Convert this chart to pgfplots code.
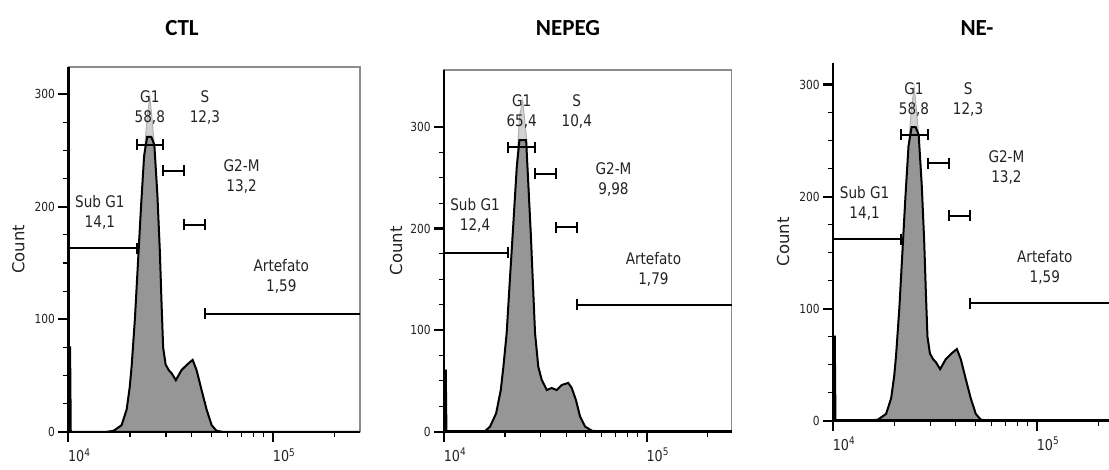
\documentclass[border=0pt]{standalone}
\usepackage{pgfplots}
\usepackage{pgfplotstable}
\pgfplotsset{compat=1.18}
\usepackage{fontspec}
\setmainfont{DejaVu Sans}[FakeStretch=0.85]
\newfontfamily\countfont{DejaVu Sans}
\newfontfamily\titlefont{Carlito}
\definecolor{histfill}{RGB}{150,150,150}
\definecolor{tipfill}{RGB}{210,210,210}
\definecolor{framec}{RGB}{140,140,140}
\definecolor{txt}{RGB}{35,35,35}

% CTL histogram (x = DNA content, y = count)
\pgfplotstableread{
x y
10000 0
10120 0
10200 76
10280 0
15136 0
16596 1
18197 6
19275 20
19953 40
20370 58
21135 100
21878 150
22646 200
23442 245
24266 280
25003 297
25410 285
26303 255
27227 210
27990 160
28510 115
29040 75
29854 60
30903 55
31989 52
33497 46
35727 55
38107 60
40458 64
42267 55
44771 37
47315 20
50119 6
52966 1
57544 0
265500 0
}\ctl

% NEPEG histogram
\pgfplotstableread{
x y
10000 0
10120 0
10200 61
10280 0
14454 0
15922 0.5
16866 5
18072 18
19055 41
19634 64
20370 97
21135 150
21827 195
22856 261
23550 310
24434 326
25410 293
26792 195
28119 97
29174 64
30339 51
32137 41
33963 43
35975 41
38107 46
41020 48
42658 43
44771 31
46881 15
49659 5
53580 1
58884 0
262400 0
}\nepeg

% NE- histogram
\pgfplotstableread{
x y
10000 0
10120 0
10200 76
10280 0
15136 0
16596 1
18197 6
19275 20
19953 40
20370 58
21135 100
21878 150
22646 200
23442 245
24266 280
25003 297
25410 285
26303 255
27227 210
27990 160
28510 115
29040 75
29854 60
30903 55
31989 52
33497 46
35727 55
38107 60
40458 64
42267 55
44771 37
47315 20
50119 6
52966 1
57544 0
263000 0
}\nem

\pgfplotsset{
  every axis/.append style={
    scale only axis,
    axis x line*=bottom, axis y line*=left,
    xmin=1e4, ymin=0,
    xtick={1e4,1e5}, xticklabels={10\textsuperscript{4},10\textsuperscript{5}},
    minor xtick={2e4,3e4,4e4,5e4,6e4,7e4,8e4,9e4,2e5},
    ytick={0,100,200,300}, minor y tick num=3,
    tick align=outside,
    major tick length=10pt, minor tick length=5pt,
    yticklabel style={font=\fontsize{12.5}{12.5}\selectfont, text=txt},
    xticklabel style={font=\fontsize{15}{15}\selectfont, text=txt, xshift=11pt, yshift=-3pt},
    clip=false, axis on top,
  },
  /pgf/number format/assume math mode=true,
}
\tikzset{
  myhist/.style={fill=histfill, draw=black, line width=2pt},
  mytip/.style={fill=tipfill, draw=tipfill!85!black, line width=1pt},
  mygate/.style={black, line width=2pt, mark=|, mark size=5.5pt, mark options={line width=2pt, solid}},
  mylbl/.style={align=center, font=\fontsize{16}{20}\selectfont, text=txt},
  mycount/.style={rotate=90, font=\countfont\fontsize{16.5}{16.5}\selectfont, text=txt},
}

\begin{document}
\begin{tikzpicture}[x=1pt,y=1pt]
\useasboundingbox (0,0) rectangle (1109,470);

% ---------------- CTL ----------------
\begin{semilogxaxis}[at={(68.3pt,38pt)}, anchor=south west, width=291.7pt, height=365pt,
  xmax=265500, ymax=324,
  axis line style={line width=2.4pt, black},
  every major tick/.append style={line width=2.2pt, black},
  every minor tick/.append style={line width=1.1pt, black}]
  \draw[framec, line width=1.4pt] (rel axis cs:0,0.97) -- (rel axis cs:0,1) -- (rel axis cs:1,1) -- (rel axis cs:1,0);
  \addplot[mytip] table {\ctl} \closedcycle;
  \addplot[myhist, y filter/.code={\pgfmathparse{min(\pgfmathresult,262)}}] table {\ctl} \closedcycle;
  \addplot[mygate, mark indices={2}] coordinates {(10000,163) (21528,163)};
  \addplot[mygate] coordinates {(21528,255) (29040,255)};
  \addplot[mygate] coordinates {(29040,232) (36644,232)};
  \addplot[mygate] coordinates {(36644,184) (46452,184)};
  \addplot[mygate, mark indices={1}] coordinates {(46452,105) (265500,105)};
  \node[mylbl] at (axis cs:14256,195) {Sub G1\\14,1};
  \node[mylbl] at (axis cs:25003,288) {G1\\58,8};
  \node[mylbl] at (axis cs:46452,288) {S\\12,3};
  \node[mylbl] at (axis cs:70146,227) {G2-M\\13,2};
  \node[mylbl] at (axis cs:109648,138) {Artefato\\1,59};
  \node[mycount] at ([xshift=-50pt]rel axis cs:0,0.5) {Count};
\end{semilogxaxis}

% ---------------- NEPEG ----------------
\begin{semilogxaxis}[at={(444pt,38.3pt)}, anchor=south west, width=287.7pt, height=361.7pt,
  xmax=262400, ymax=356,
  axis line style={line width=2.4pt, black},
  every major tick/.append style={line width=2.2pt, black},
  every minor tick/.append style={line width=1.1pt, black}]
  \draw[framec, line width=1.4pt] (rel axis cs:0,0.8) -- (rel axis cs:0,1) -- (rel axis cs:1,1) -- (rel axis cs:1,0);
  \addplot[mytip] table {\nepeg} \closedcycle;
  \addplot[myhist, y filter/.code={\pgfmathparse{min(\pgfmathresult,287)}}] table {\nepeg} \closedcycle;
  \addplot[mygate, mark indices={2}] coordinates {(10000,176) (20749,176)};
  \addplot[mygate] coordinates {(20749,280) (28119,280)};
  \addplot[mygate] coordinates {(28119,254) (35727,254)};
  \addplot[mygate] coordinates {(35727,201) (45499,201)};
  \addplot[mygate, mark indices={1}] coordinates {(45499,125) (262400,125)};
  \node[mylbl] at (axis cs:14223,213) {Sub G1\\12,4};
  \node[mylbl] at (axis cs:24155,315) {G1\\65,4};
  \node[mylbl] at (axis cs:45186,315) {S\\10,4};
  \node[mylbl] at (axis cs:68549,248) {G2-M\\9,98};
  \node[mylbl] at (axis cs:107895,160) {Artefato\\1,79};
  \node[mycount] at ([xshift=-48pt]rel axis cs:0,0.5) {Count};
\end{semilogxaxis}

% ---------------- NE- ----------------
\begin{semilogxaxis}[at={(833pt,49.3pt)}, anchor=south west, width=289.7pt, height=357.4pt,
  xmax=263000, ymax=319,
  axis line style={line width=2.4pt, black},
  every major tick/.append style={line width=2.2pt, black},
  every minor tick/.append style={line width=1.1pt, black}]
  \addplot[mytip] table {\nem} \closedcycle;
  \addplot[myhist, y filter/.code={\pgfmathparse{min(\pgfmathresult,262)}}] table {\nem} \closedcycle;
  \addplot[mygate, mark indices={2}] coordinates {(10000,162) (21628,162)};
  \addplot[mygate] coordinates {(21628,255) (29242,255)};
  \addplot[mygate] coordinates {(29242,230) (36898,230)};
  \addplot[mygate] coordinates {(36898,183) (46774,183)};
  \addplot[mygate, mark indices={1}] coordinates {(46774,105) (263000,105)};
  \node[mylbl] at (axis cs:14289,194) {Sub G1\\14,1};
  \node[mylbl] at (axis cs:24946,287) {G1\\58,8};
  \node[mylbl] at (axis cs:45920,287) {S\\12,3};
  \node[mylbl] at (axis cs:70795,226) {G2-M\\13,2};
  \node[mylbl] at (axis cs:109144,137) {Artefato\\1,59};
  \node[mycount] at ([xshift=-50pt]rel axis cs:0,0.5) {Count};
\end{semilogxaxis}

% titles
\node[font=\titlefont\bfseries\fontsize{23}{23}\selectfont] at (182,442) {CTL};
\node[font=\titlefont\bfseries\fontsize{23}{23}\selectfont] at (568,442) {NEPEG};
\node[font=\titlefont\bfseries\fontsize{23}{23}\selectfont] at (977,442) {NE-};
\end{tikzpicture}
\end{document}
